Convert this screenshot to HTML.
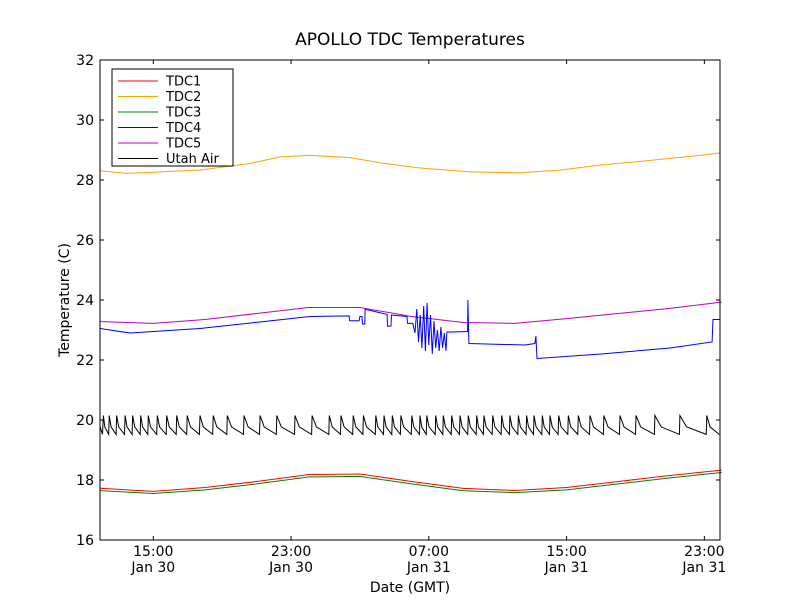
<!DOCTYPE html>
<html><head><meta charset="utf-8"><style>
body{margin:0;background:#fff;}
svg text{font-family:"DejaVu Sans","Liberation Sans",sans-serif;}
</style></head><body>
<svg id="chart" width="800" height="600" xmlns="http://www.w3.org/2000/svg">
<rect width="800" height="600" fill="#fff"/>
<text x="410" y="45" font-size="17" text-anchor="middle">APOLLO TDC Temperatures</text>
<text x="410" y="592" font-size="14" text-anchor="middle">Date (GMT)</text>
<text transform="translate(69,300) rotate(-90)" font-size="14" text-anchor="middle">Temperature (C)</text>
<g id="series"></g>
<rect x="100" y="60" width="620" height="480" fill="none" stroke="#000" stroke-width="1"/>
<g id="axes"></g>
<g>
<rect x="112" y="69" width="121" height="97" fill="#fff" stroke="#000"/>
</g>
<g id="legend"></g>
</svg>
<script>
const yTicks=[16,18,20,22,24,26,28,30,32];
const xTickHours=[15,23,31,39,47];
const xTickTimes=["15:00","23:00","07:00","15:00","23:00"];
const xTickDates=["Jan 30","Jan 30","Jan 31","Jan 31","Jan 31"];
const tdc2Hours=[11.9,13.47,17.7,20.6,22.36,24.1,26.4,28.2,30.5,33.4,36.3,38.6,41.0,43.8,46.75,47.9];
const tdc2=[28.31,28.22,28.33,28.55,28.77,28.82,28.75,28.57,28.4,28.27,28.24,28.33,28.5,28.65,28.82,28.9];
const knotHours=[11.9,12,15,18,21,24,27,30,33,36,39,42,45,48];
const tdc5=[23.3,23.28,23.22,23.35,23.55,23.75,23.75,23.45,23.25,23.22,23.38,23.55,23.72,23.93];
const tdc1=[17.75,17.72,17.62,17.75,17.95,18.18,18.2,17.95,17.72,17.65,17.75,17.95,18.15,18.33];
const tdc3=[17.68,17.64,17.55,17.67,17.87,18.1,18.12,17.87,17.64,17.58,17.67,17.87,18.07,18.25];
const tdc4Hours=[11.9,13.65,17.71,24.1,26.37,26.4,26.95,27.0,27.12,27.15,27.28,27.3,28.58,28.6,28.8,28.83,29.73,29.76,30.07,30.2,30.3,30.4,30.5,30.6,30.7,30.8,30.9,31.0,31.1,31.2,31.3,31.4,31.5,31.6,31.7,31.8,31.9,32.0,32.05,33.25,33.27,33.33,36.58,37.16,37.22,37.28,41,45,47.45,47.5,47.9];
const tdc4=[23.05,22.9,23.05,23.45,23.47,23.31,23.31,23.45,23.45,23.2,23.2,23.69,23.52,23.13,23.13,23.5,23.45,23.22,23.22,22.9,23.7,22.6,23.5,22.4,23.8,22.3,23.9,22.5,23.5,22.2,23.3,22.4,23.0,22.3,23.1,22.4,22.9,22.3,22.93,22.95,24.0,22.55,22.5,22.55,22.8,22.05,22.2,22.4,22.6,23.35,23.35];
const airPeakHours=[12.10,12.44,12.87,13.36,13.80,14.27,14.71,15.23,15.78,16.36,16.97,17.71,18.48,19.30,20.27,21.20,22.17,23.23,24.22,25.22,25.90,26.61,27.20,27.92,28.40,28.88,29.38,30.01,30.49,30.88,31.40,31.84,32.33,32.81,33.29,33.78,34.20,34.71,35.23,35.71,36.20,36.68,37.11,37.59,38.04,38.54,39.10,39.68,40.36,41.17,42.10,43.03,44.13,45.58,47.14];
const airPeak=20.15, airTrough=19.52;

const X15=153.3, PXH=17.22;
const xs=t=>X15+(t-15)*PXH;
const ys=v=>60+(32-v)*30;
const NS="http://www.w3.org/2000/svg";
const sg=document.getElementById('series'), ax=document.getElementById('axes'), lg=document.getElementById('legend');
function mk(tag,attrs,parent){const e=document.createElementNS(NS,tag);for(const k in attrs)e.setAttribute(k,attrs[k]);parent.appendChild(e);return e;}
function line(hours,vals,color,name){
  const p=mk('polyline',{points:hours.map((t,i)=>xs(t).toFixed(1)+','+ys(vals[i]).toFixed(1)).join(' '),fill:'none',stroke:color,'stroke-width':1},sg);
  
  
}
const ah=[],av=[];
ah.push(11.9);av.push(19.8);
airPeakHours.forEach((t,i)=>{
  const prev=i>0?airPeakHours[i-1]:11.9;
  if(i===0){ah.push(t-0.05);av.push(airTrough);}
  ah.push(t);av.push(airPeak);
  const nxt=i+1<airPeakHours.length?airPeakHours[i+1]:47.9;
  const d=nxt-t;
  ah.push(t+d*0.25);av.push(airTrough+0.25);
  ah.push(nxt-0.03);av.push(airTrough);
});
line(ah,av,'#000','series-utah-air');
line(knotHours,tdc1,'#ff0000','series-tdc1');
line(knotHours,tdc3,'#008000','series-tdc3');
line(tdc2Hours,tdc2,'#ffa500','series-tdc2');
line(knotHours,tdc5,'#bf00bf','series-tdc5');
line(tdc4Hours,tdc4,'#0000ff','series-tdc4');
yTicks.forEach(v=>{
  const y=ys(v);
  mk('line',{x1:100,x2:104,y1:y,y2:y,stroke:'#000'},ax);
  mk('line',{x1:716,x2:720,y1:y,y2:y,stroke:'#000'},ax);
  const t=mk('text',{x:94,y:y+5,'font-size':14,'text-anchor':'end'},ax);
  t.textContent=v;
  
  
});
xTickHours.forEach((h,i)=>{
  const x=xs(h);
  mk('line',{x1:x,x2:x,y1:540,y2:536,stroke:'#000'},ax);
  mk('line',{x1:x,x2:x,y1:60,y2:64,stroke:'#000'},ax);
  const t=mk('text',{x:x,y:556,'font-size':14,'text-anchor':'middle'},ax);
  t.textContent=xTickTimes[i];
  
  
  const d=mk('text',{x:x,y:572,'font-size':14,'text-anchor':'middle'},ax);
  d.textContent=xTickDates[i];
  
  
});
const legNames=["TDC1","TDC2","TDC3","TDC4","TDC5","Utah Air"];
const legColors=['#ff0000','#ffa500','#008000','#0000ff','#bf00bf','#000'];
legNames.forEach((n,i)=>{
  const y=81+i*15.5;
  const l=mk('line',{x1:118,x2:158,y1:y,y2:y,stroke:legColors[i]},lg);
  
  
  const t=mk('text',{x:166,y:y+4.5,'font-size':13},lg);
  t.textContent=n;
  
  
});
</script>
</body></html>
